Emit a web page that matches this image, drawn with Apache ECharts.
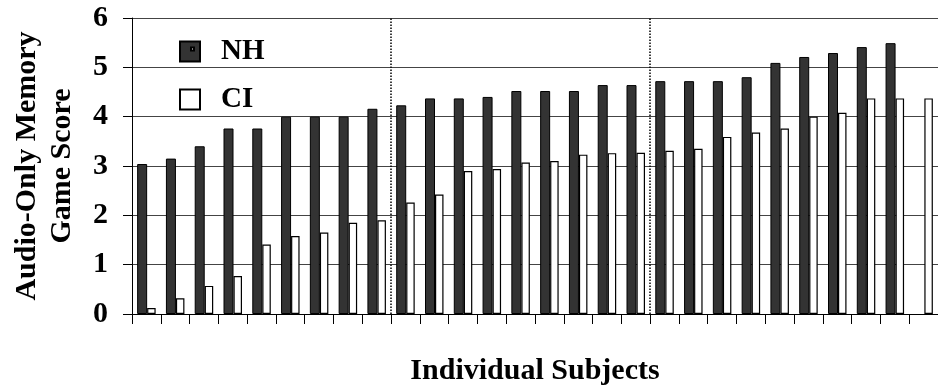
<!DOCTYPE html>
<html>
<head>
<meta charset="utf-8">
<script src="https://cdn.jsdelivr.net/npm/echarts@6/dist/echarts.min.js"></script>
<style>
  html, body { margin: 0; padding: 0; background: #fff; }
  #chart { width: 938px; height: 391px; }
</style>
</head>
<body>
<div id="chart"></div>
<script>
// Subjects sorted by score, one category per subject
const subjects = Array.from({ length: 28 }, (_, i) => 'S' + (i + 1));

// Normal-hearing group scores (last subject has no NH score)
const nhScores = [3.04, 3.15, 3.40, 3.76, 3.76, 4.00, 4.00, 4.00, 4.16, 4.23,
                  4.37, 4.37, 4.40, 4.52, 4.52, 4.52, 4.64, 4.64, 4.72, 4.72,
                  4.72, 4.80, 5.09, 5.21, 5.29, 5.41, 5.49, null];

// Cochlear-implant group scores
const ciScores = [0.12, 0.32, 0.57, 0.77, 1.41, 1.58, 1.65, 1.85, 1.90, 2.26,
                  2.42, 2.90, 2.94, 3.07, 3.10, 3.23, 3.26, 3.27, 3.31, 3.35,
                  3.59, 3.68, 3.76, 4.00, 4.08, 4.37, 4.37, 4.37];

// Group dividers, in subject units from the left edge
const dividers = [9, 18];

const yTicks = { min: 0, max: 6, interval: 1 };

const serif = "'Liberation Serif', 'Times New Roman', serif";

const chart = echarts.init(document.getElementById('chart'));
chart.setOption({
  animation: false,
  backgroundColor: '#fff',
  grid: { left: 132, right: -8, top: 18, bottom: 75 },
  legend: {
    orient: 'vertical',
    left: 179,
    top: 37,
    padding: 0,
    itemWidth: 20,
    itemHeight: 20,
    itemGap: 19,
    textStyle: {
      fontFamily: serif, fontSize: 29, fontWeight: 'bold', color: '#000',
      padding: [0, 0, 0, 16]
    },
    data: [
      { name: 'NH', icon: 'path://M0,0H20V20H0Z M11,6V9H14V6Z' },
      { name: 'CI', icon: 'rect' }
    ]
  },
  xAxis: [
    {
      type: 'category',
      data: subjects,
      boundaryGap: true,
      name: 'Individual Subjects',
      nameLocation: 'middle',
      nameGap: 42,
      nameTextStyle: { fontFamily: serif, fontSize: 30, fontWeight: 'bold', color: '#000' },
      axisLine: { lineStyle: { color: '#000', width: 1 } },
      axisTick: { show: true, interval: 0, length: 10, lineStyle: { color: '#000' } },
      axisLabel: { show: false },
      splitLine: { show: false }
    },
    {
      // hidden linear axis used to place the group dividers between subjects
      type: 'value',
      min: 0,
      max: subjects.length,
      show: false
    }
  ],
  yAxis: {
    type: 'value',
    min: yTicks.min,
    max: yTicks.max,
    interval: yTicks.interval,
    name: 'Audio-Only Memory\nGame Score',
    nameLocation: 'middle',
    nameGap: 52,
    nameTextStyle: { fontFamily: serif, fontSize: 30, fontWeight: 'bold', color: '#000', lineHeight: 35 },
    axisLine: { show: true, lineStyle: { color: '#000', width: 1 } },
    axisTick: { show: true, length: 9, lineStyle: { color: '#000' } },
    axisLabel: { fontFamily: serif, fontSize: 30, fontWeight: 'bold', color: '#000', margin: 24 },
    splitLine: { show: true, lineStyle: { color: '#444', width: 1 } }
  },
  series: [
    {
      name: 'NH',
      type: 'bar',
      data: nhScores,
      barWidth: 10,
      barGap: '0%',
      itemStyle: { color: '#333', borderColor: '#000', borderWidth: 1 }
    },
    {
      name: 'CI',
      type: 'bar',
      data: ciScores,
      barWidth: 8.5,
      barGap: '0%',
      itemStyle: { color: '#fff', borderColor: '#000', borderWidth: 1.2 }
    },
    {
      name: 'dividers',
      type: 'line',
      xAxisIndex: 1,
      data: [],
      silent: true,
      markLine: {
        silent: true,
        symbol: 'none',
        label: { show: false },
        lineStyle: { color: '#000', type: [1.5, 1.5], width: 1.5 },
        data: dividers.map(v => ({ xAxis: v }))
      }
    }
  ]
});
</script>
</body>
</html>
